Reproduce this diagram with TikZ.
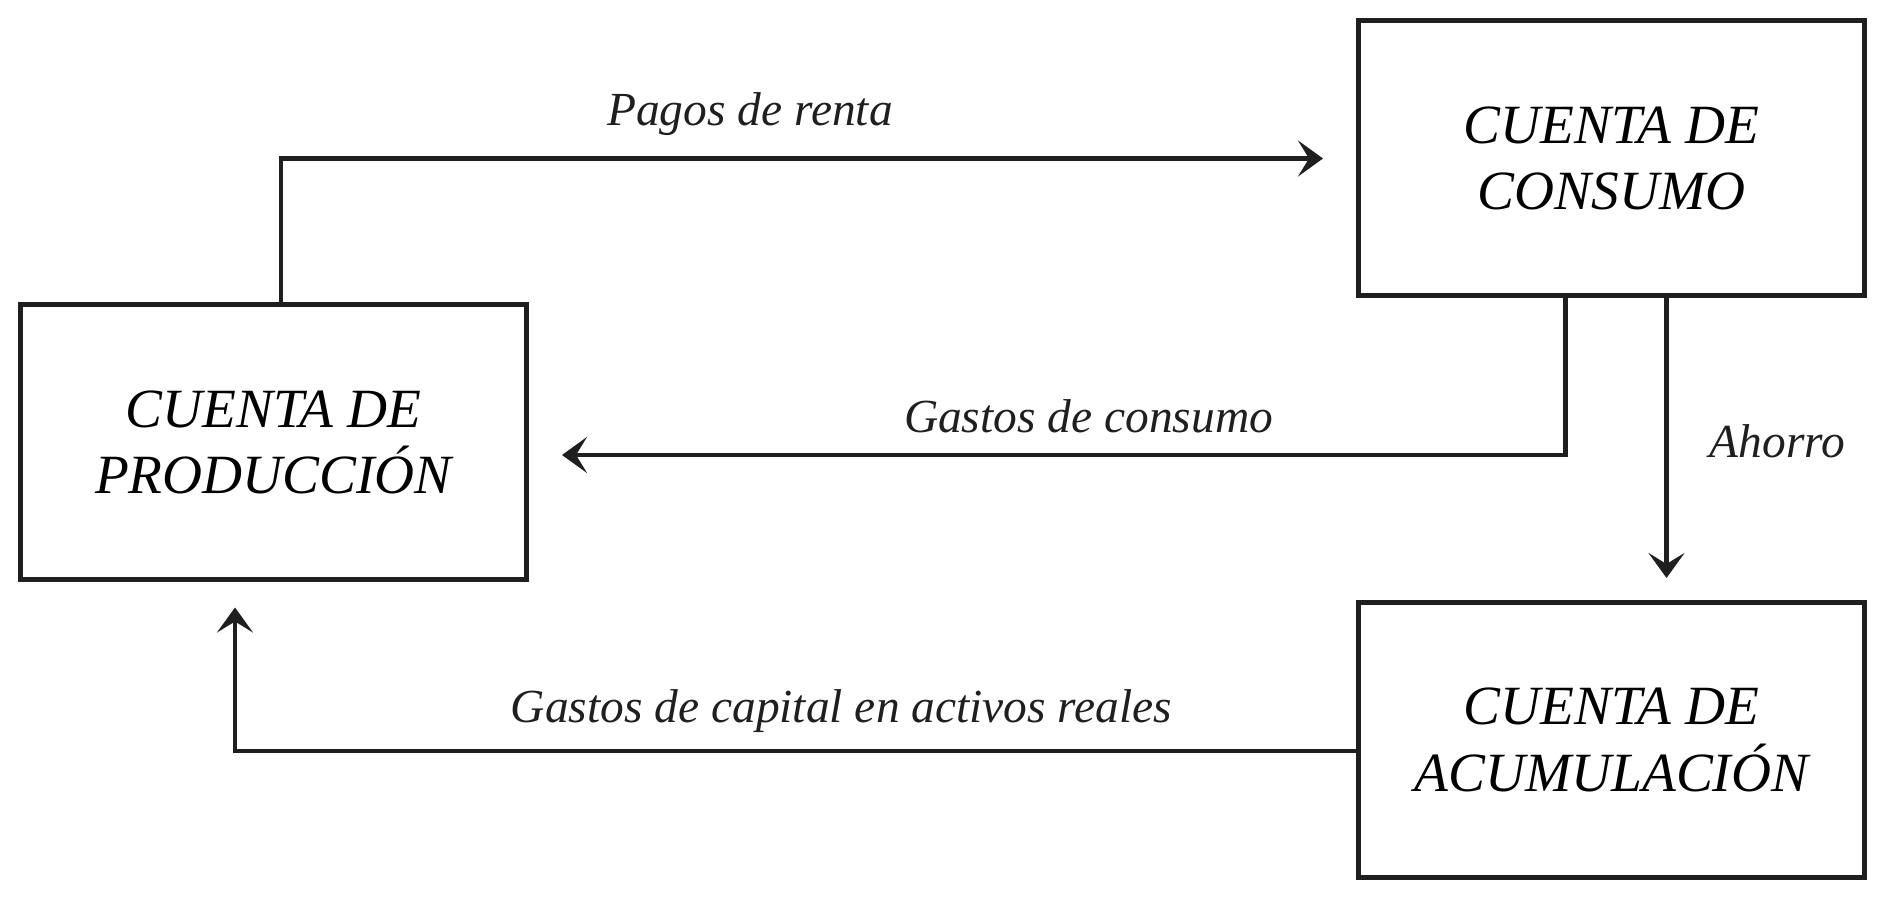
\documentclass[tikz,border=0pt]{standalone}
\usepackage{fontspec}
\setmainfont{Liberation Serif}
\usetikzlibrary{arrows.meta,calc}

\tikzset{
  cuenta/.style={draw=black!88, line width=0.1cm, minimum width=10.12cm, minimum height=5.5cm,
    align=center, inner sep=0pt, font=\fontsize{31.5}{38}\selectfont\itshape},
  flujo/.style={draw=black!88, line width=0.085cm,
    -{Stealth[length=0.5cm, width=0.72cm, inset=0.22cm]}},
  rotulo/.style={anchor=base, inner sep=0pt, text=black!88,
    font=\fontsize{27}{32}\selectfont\itshape}
}

\begin{document}
\begin{tikzpicture}
			%%%%% CUENTAS %%%%%
			\useasboundingbox (0, 0) rectangle (37.92, -18.08);
			
			\node[cuenta] (prod) at (5.47, -8.85) {CUENTA DE\\PRODUCCIÓN};
			\node[cuenta] (cons) at (32.23, -3.17) {CUENTA DE\\CONSUMO};
			\node[cuenta] (acum) at (32.23, -14.8) {CUENTA DE\\ACUMULACIÓN};
			
			%%%%% FLUJOS %%%%%
			\draw[flujo] ([xshift=0.15cm]prod.north) |- ([xshift=-0.66cm]cons.west);
			\node[rotulo] (renta) at (15.0, -2.52) {Pagos de renta};
			
			\draw[flujo] ([xshift=-0.92cm]cons.south) |- ([xshift=0.66cm, yshift=-0.25cm]prod.east);
			\node[rotulo] (consumo) at (21.77, -8.66) {Gastos de consumo};
			
			\draw[flujo] ([xshift=1.1cm]cons.south) -- ([xshift=1.1cm, yshift=0.44cm]acum.north);
			\node[rotulo] (ahorro) at (35.55, -9.16) {Ahorro};
			
			\draw[flujo] ([yshift=-0.22cm]acum.west) -| ([xshift=-0.77cm, yshift=-0.5cm]prod.south);
			\node[rotulo] (capital) at (16.83, -14.44) {Gastos de capital en activos reales};
			
			%%%%% FIN %%%%%
\end{tikzpicture}
\end{document}
